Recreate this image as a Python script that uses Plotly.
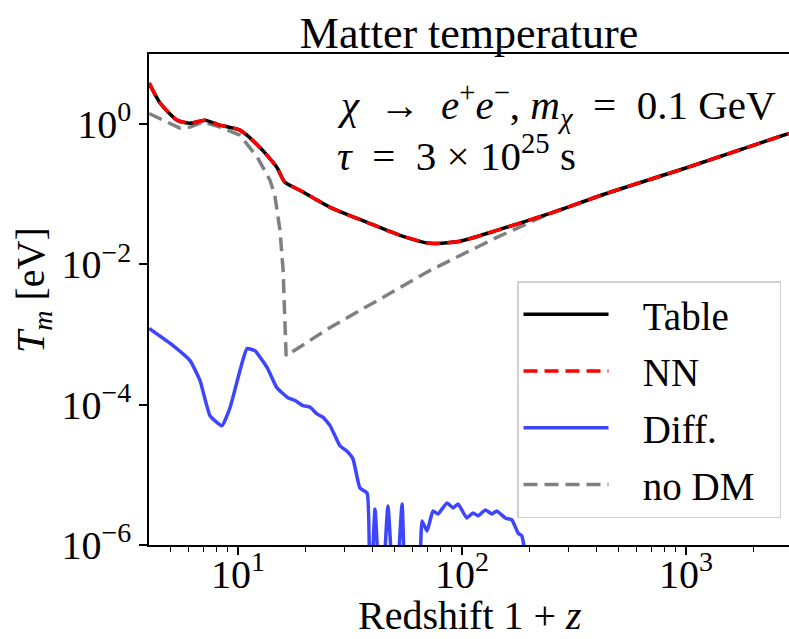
import plotly.graph_objects as go

# ---- data ----
table_z = [4.01, 4.49, 5.34, 6.11, 7.12, 8.31, 10.2, 12.5, 14.9, 16.2, 18.9, 25.8, 37.7,
           52.9, 71.9, 98.0, 143, 247, 458, 990, 2884]
table_T = [3.85, 2.0, 1.14, 1.03, 1.14, 0.968, 0.821, 0.469, 0.243, 0.148, 0.114, 0.0652, 0.0398,
           0.026, 0.020, 0.0214, 0.0306, 0.0535, 0.107, 0.235, 0.74]

nn_z = table_z
nn_T = table_T

nodm_z = [4.01, 5.51, 6.11, 6.98, 8.31, 10.2, 12.2, 13.9, 14.6, 15.4, 15.9, 16.2, 16.4,
          25.8, 71.9, 143, 195, 247, 458, 990, 2884]
nodm_T = [1.42, 0.877, 0.906, 1.07, 0.906, 0.697, 0.338, 0.158, 0.097, 0.0306, 0.0082, 0.0016, 5.0e-4,
          1.26e-3, 8.2e-3, 0.0243, 0.0385, 0.0535, 0.107, 0.235, 0.74]

diff_z = [4.01, 5.13, 6.11, 6.77, 7.50, 8.48, 9.21, 10.2, 10.97, 11.9, 13.5, 14.9, 16.7, 18.0,
          19.5, 21.0, 22.5, 24.0, 25.8, 28.5, 30.5, 32.6, 35.0, 37.7, 38.8, 40.9, 43.5, 46.7,
          50.2, 54.0, 57.4, 63.0, 66.3, 69.8, 74.2, 78.1, 85.7, 91.2, 96.0, 105, 112, 118, 127,
          136, 143, 156, 167, 178, 185, 195, 200]
diff_T = [1.22e-3, 6.97e-4, 4.25e-4, 2.2e-4, 6.97e-5, 5.0e-5, 9.06e-5, 3.06e-4, 6.3e-4, 5.9e-4,
          3.38e-4, 1.75e-4, 1.26e-4, 1.15e-4, 9.7e-5, 9.2e-5, 7.4e-5, 6.6e-5, 5.0e-5, 2.6e-5,
          2.2e-5, 1.69e-5, 6.5e-6, 5.5e-6, 1e-7, 3.27e-6, 1e-7, 3.6e-6, 1e-7, 3.85e-6, 1e-7,
          1e-7, 2.2e-6, 1.58e-6, 3.06e-6, 2.77e-6, 3.98e-6, 3.38e-6, 3.85e-6, 2.43e-6, 2.86e-6,
          2.6e-6, 3.16e-6, 2.77e-6, 3.06e-6, 2.43e-6, 2.28e-6, 1.48e-6, 1.35e-6, 5e-7, 1e-7]

x_tickvals = [10, 100, 1000]
x_ticktext = ["10<sup>1</sup>", "10<sup>2</sup>", "10<sup>3</sup>"]
y_tickvals = [1e-6, 1e-4, 1e-2, 1]
y_ticktext = ["10<sup>\u22126</sup>", "10<sup>\u22124</sup>", "10<sup>\u22122</sup>", "10<sup>0</sup>"]

FONT = "Liberation Serif"
FS = 40
NB = "\u00a0"
EN = "\u2002"

fig = go.Figure()
fig.add_trace(go.Scatter(x=nodm_z, y=nodm_T, mode="lines", name=NB * 3 + "no DM" + NB * 2,
                         legendrank=4, legendgroup="d",
                         line=dict(color="#808080", width=3.5, dash="14px,7px")))
fig.add_trace(go.Scatter(x=table_z, y=table_T, mode="lines", name=NB * 3 + "Table", legendrank=1,
                         legendgroup="a",
                         line=dict(color="black", width=3.5, shape="spline", smoothing=0.6)))
fig.add_trace(go.Scatter(x=nn_z, y=nn_T, mode="lines", name=NB * 3 + "NN", legendrank=2,
                         legendgroup="b",
                         line=dict(color="#ff0000", width=3.5, dash="14px,7px", shape="spline",
                                   smoothing=0.6)))
fig.add_trace(go.Scatter(x=diff_z, y=diff_T, mode="lines", name=NB * 3 + "Diff.", legendrank=3,
                         legendgroup="c",
                         line=dict(color="#3d45ff", width=3.5, shape="spline", smoothing=0.4)))

fig.update_layout(
    width=789, height=639,
    margin=dict(l=149, r=0, t=54, b=94, autoexpand=False),
    paper_bgcolor="white", plot_bgcolor="white",
    font=dict(family=FONT, size=FS, color="black"),
    showlegend=True,
    legend=dict(x=(517 - 149) / 640, y=(545 - 281) / 491, xanchor="left", yanchor="top",
                bgcolor="rgba(255,255,255,0.85)", bordercolor="#d0d0d0", borderwidth=1.5,
                font=dict(family=FONT, size=39), itemwidth=85, tracegroupgap=3,
                traceorder="grouped"),
    title=dict(text="Matter temperature", x=469 / 789, xanchor="center", y=1 - 33 / 639,
               yanchor="middle", font=dict(family=FONT, size=44)),
)

fig.update_xaxes(type="log", range=[0.6027, 3.4598], showgrid=False, zeroline=False,
                 automargin=False,
                 showline=True, linecolor="black", linewidth=1.5, mirror=True,
                 ticks="outside", ticklen=8, tickwidth=1.5, tickcolor="black",
                 tickvals=x_tickvals, ticktext=x_ticktext, tickfont=dict(size=FS),
                 ticklabelstandoff=-15,
                 minor=dict(ticks="outside", ticklen=5, tickwidth=1.2, tickcolor="black",
                            dtick="D1", showgrid=False))
fig.update_yaxes(type="log", range=[-6, 1], showgrid=False, zeroline=False,
                 automargin=False,
                 showline=True, linecolor="black", linewidth=1.5, mirror=False,
                 ticks="outside", ticklen=8, tickwidth=1.5, tickcolor="black",
                 tickvals=y_tickvals, ticktext=y_ticktext, tickfont=dict(size=FS))

fig.add_annotation(text="Redshift 1 + <i>z</i>", xref="paper", yref="paper",
                   x=(470 - 149) / 640, y=-(615 - 545) / 491, xanchor="center", yanchor="middle",
                   showarrow=False, font=dict(family=FONT, size=FS))
fig.add_annotation(text="<i>T</i><sub><i>m</i></sub> [eV]", xref="paper", yref="paper",
                   x=-(149 - 33) / 640, y=(545 - 290) / 491, xanchor="center", yanchor="middle",
                   textangle=-90, showarrow=False, font=dict(family=FONT, size=FS))
fig.add_annotation(text="<i>\u03c7</i>" + EN + "\u2192" + EN + "<i>e</i><sup>+</sup><i>e</i><sup>\u2212</sup>, "
                        "<i>m</i><sub><i>\u03c7</i></sub>" + EN + "=" + EN + "0.1 GeV",
                   xref="paper", yref="paper", x=(335 - 149) / 640, y=(545 - 105) / 491,
                   xanchor="left", yanchor="middle", showarrow=False,
                   font=dict(family=FONT, size=41))
fig.add_annotation(text="<i>\u03c4</i>" + EN + "=" + EN + "3 \u00d7 10<sup>25</sup> s",
                   xref="paper", yref="paper", x=(335 - 149) / 640, y=(545 - 153) / 491,
                   xanchor="left", yanchor="middle", showarrow=False,
                   font=dict(family=FONT, size=41))

fig.write_html("out.html", config={"displayModeBar": False},
               post_script="document.body.style.margin='0';document.body.style.overflow='hidden';")
